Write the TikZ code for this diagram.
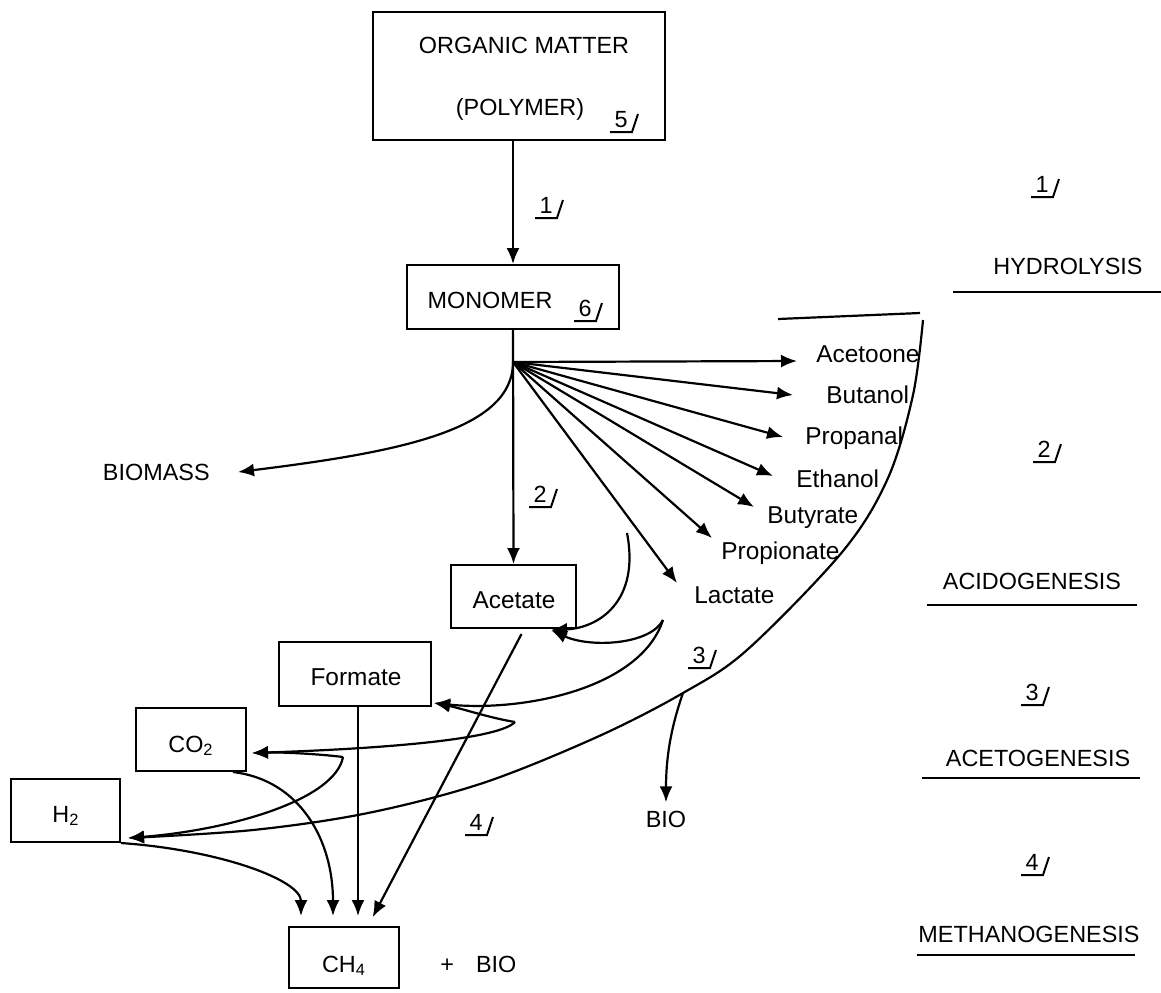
\documentclass[tikz,border=0pt]{standalone}
\usepackage{fontspec}
\setmainfont{Liberation Sans}
\usetikzlibrary{arrows.meta}
\tikzset{
  box/.style={draw, line width=1pt, inner sep=0pt},
  capt/.style={font=\fontsize{11.7}{14}\selectfont, inner sep=0pt},
  lowt/.style={font=\fontsize{12.2}{14}\selectfont, inner sep=0pt},
  arr/.style={line width=1.1pt, -{Latex[length=8pt,width=6.5pt]}},
  con/.style={line width=1.1pt},
  uline/.style={line width=1.1pt},
}
\newcommand{\refmark}[3]{%
  \node[capt, anchor=base] (#1) at (#2) {#3};
  \draw[line width=1pt] ([shift={(-11,5)}]#1.base) -- ([shift={(11,5)}]#1.base) -- ++(6,-18);
}
\begin{document}
\begin{tikzpicture}[x=0.5pt,y=-0.5pt]
\useasboundingbox (0,0) rectangle (1161,992);

% ---- boxes ----
\node[box, minimum width=146pt, minimum height=64pt] (org) at (519,76) {};
\node[capt, anchor=base] (orgt1) at (524,53) {ORGANIC MATTER};
\node[capt, anchor=base] (orgt2) at (520,115) {(POLYMER)};
\refmark{m5}{621,127}{5}

\node[box, minimum width=106pt, minimum height=32pt] (mono) at (513,297) {};
\node[capt, anchor=base] (monot) at (490,308) {MONOMER};
\refmark{m6}{585,316}{6}

\node[box, minimum width=62.5pt, minimum height=31.5pt] (acet) at (513.5,596.5) {};
\node[lowt, anchor=base] (acett) at (514,608) {Acetate};

\node[box, minimum width=76pt, minimum height=32pt] (form) at (355,674) {};
\node[lowt, anchor=base] (formt) at (356,685) {Formate};

\node[box, minimum width=55pt, minimum height=31.5pt] (co2) at (191,739.5) {};
\node[capt, anchor=base] (co2t) at (191,752) {CO\textsubscript{2}};

\node[box, minimum width=54.5pt, minimum height=31.5pt] (h2) at (65.5,810.5) {};
\node[capt, anchor=base] (h2t) at (66,822) {H\textsubscript{2}};

\node[box, minimum width=55pt, minimum height=30.5pt] (ch4) at (344,957.5) {};
\node[capt, anchor=base] (ch4t) at (344,972) {CH\textsubscript{4}};
\node[capt, anchor=base west] (plusbio) at (440,972) {+\hspace{11pt}BIO};

% ---- top arrows ----
\draw[arr] (org.south -| mono.north) -- (mono.north);
\refmark{m1}{546,213}{1}
\coordinate (fan) at (513,362);
\draw[arr] (mono.south) -- (acet.north);
\refmark{m2}{540,502}{2}

% ---- fan labels ----
\node[lowt, anchor=base west] (l1) at (816,362) {Acetoone};
\node[lowt, anchor=base west] (l2) at (826,403) {Butanol};
\node[lowt, anchor=base west] (l3) at (805,444) {Propanal};
\node[lowt, anchor=base west] (l4) at (796,487) {Ethanol};
\node[lowt, anchor=base west] (l5) at (767,523) {Butyrate};
\node[lowt, anchor=base west] (l6) at (721,559) {Propionate};
\node[lowt, anchor=base west] (l7) at (694,603) {Lactate};
\draw[arr] (fan) -- ([shift={(-19,-1)}]l1.base west);
\draw[arr] (fan) -- ([shift={(-33,-8)}]l2.base west);
\draw[arr] (fan) -- ([shift={(-22,-7)}]l3.base west);
\draw[arr] (fan) -- ([shift={(-23,-11)}]l4.base west);
\draw[arr] (fan) -- ([shift={(-13,-16)}]l5.base west);
\draw[arr] (fan) -- ([shift={(-9,-21)}]l6.base west);
\draw[arr] (fan) -- ([shift={(-17,-20)}]l7.base west);

% ---- biomass ----
\node[capt, anchor=base east] (bm) at (210,480) {BIOMASS};
\draw[arr] (fan) .. controls (513,430) and (400,452) .. ([shift={(28,-8)}]bm.base east);

% ---- hooks ----
\coordinate (hA) at (627,533);
\coordinate (c1) at (663,620);
\coordinate (c2) at (515,722);
\coordinate (c3) at (343,757);
\coordinate (acettip) at ([shift={(-26,1)}]acet.south east);
\coordinate (formtip) at ([shift={(2,-4)}]form.south east);
\coordinate (co2tip) at ([shift={(5,-19)}]co2.south east);
\coordinate (h2tip) at ([shift={(7,-5)}]h2.south east);
\draw[arr] (hA) .. controls (640,600) and (600,628) .. (acettip);
\draw[arr] (c1) .. controls (650,645) and (590,648) .. (acettip);
\draw[arr] (c1) .. controls (640,690) and (520,712) .. (formtip);
\draw[arr] (c2) .. controls (490,718) and (460,708) .. (formtip);
\draw[arr] (c2) .. controls (500,738) and (400,748) .. (co2tip);
\draw[arr] (c3) .. controls (320,754) and (280,752) .. (co2tip);
\draw[arr] (c3) .. controls (335,800) and (230,830) .. (h2tip);

% ---- big curve ----
\draw[con] (778,319) -- (920,313);
\coordinate (bs) at (923,320);
\coordinate (br) at (683,693);
\draw[arr] plot[smooth, tension=0.55] coordinates {(bs) (913,395) (888,478) (843,551) (747,650) (br) (597,737) (483,783) (368,813) (253,830) (h2tip)};
\node[capt, anchor=base] (bio) at (666,827) {BIO};
\draw[arr, shorten >=4pt] (br) .. controls (670,730) and (666,760) .. (bio.north);
\refmark{m3}{699,663}{3}
\refmark{m4}{476,830}{4}

% ---- into CH4 ----
\draw[arr, shorten >=5pt] (h2.south east) .. controls (220,850) and (301,880) .. ([xshift=-21.5pt]ch4.north);
\draw[arr, shorten >=5pt] ([xshift=-7pt]co2.south east) .. controls (300,780) and (333,840) .. ([xshift=-5.5pt]ch4.north);
\draw[arr, shorten >=5pt] ([xshift=1.5pt]form.south) -- ([xshift=7pt]ch4.north);
\draw[arr, shorten >=5pt] ([shift={(8,5)}]acet.south) -- ([xshift=12pt]ch4.north);

% ---- right column ----
\refmark{r1}{1042,192}{1}
\node[capt, anchor=base] (hyd) at (1068,274) {HYDROLYSIS};
\draw[uline] (953,292) -- (1161,292);
\refmark{r2}{1044,457}{2}
\node[capt, anchor=base] (acid) at (1032,589) {ACIDOGENESIS};
\draw[uline] (927,605) -- (1137,605);
\refmark{r3}{1032,700}{3}
\node[capt, anchor=base] (acetog) at (1038,766) {ACETOGENESIS};
\draw[uline] (922,778) -- (1140,778);
\refmark{r4}{1032,870}{4}
\node[capt, anchor=base] (meth) at (1029,942) {METHANOGENESIS};
\draw[uline] (917,955) -- (1135,955);
\end{tikzpicture}
\end{document}
